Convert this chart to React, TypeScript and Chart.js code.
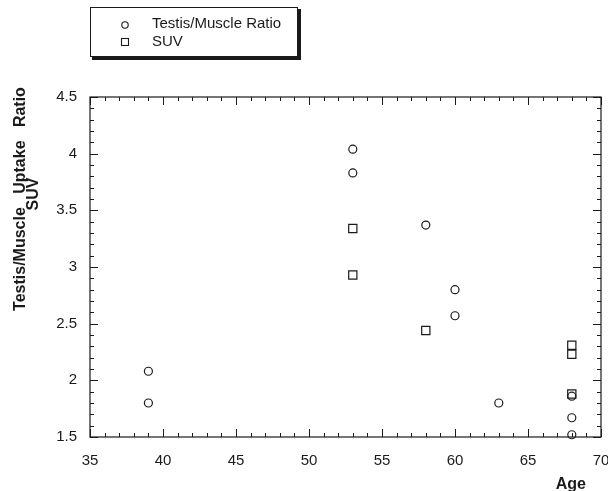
import React, { useEffect, useRef } from "react";
import { Chart, registerables } from "chart.js";

Chart.register(...registerables);

// ---- data ----
const ratioAges = [39, 39, 53, 53, 58, 60, 60, 63, 68, 68, 68];
const ratioValues = [2.08, 1.8, 4.04, 3.83, 3.37, 2.8, 2.57, 1.8, 1.86, 1.67, 1.52];
const suvAges = [53, 53, 58, 68, 68, 68];
const suvValues = [3.34, 2.93, 2.44, 2.31, 2.23, 1.88];

const seriesLabels = ["Testis/Muscle Ratio", "SUV"];
const xTickValues = [35, 40, 45, 50, 55, 60, 65, 70];
const xTickLabels = ["35", "40", "45", "50", "55", "60", "65", "70"];
const yTickValues = [1.5, 2, 2.5, 3, 3.5, 4, 4.5];
const yTickLabels = ["1.5", "2", "2.5", "3", "3.5", "4", "4.5"];
const xMinorStep = 1;
const yMinorStep = 0.1;
const yTitleLine1 = "Testis/Muscle   Uptake   Ratio";
const yTitleLine2 = "SUV";
const xTitle = "Age";

const FONT = '"Liberation Sans", Arial, Helvetica, sans-serif';
const INK = "#1a1a1a";

const decorPlugin = {
  id: "decor",
  afterDraw(chart: any) {
    const ctx = chart.ctx as CanvasRenderingContext2D;
    const { left, right, top, bottom } = chart.chartArea;
    const xs = chart.scales.x;
    const ys = chart.scales.y;
    ctx.save();
    ctx.strokeStyle = INK;
    ctx.lineWidth = 1.2;
    // frame
    ctx.strokeRect(left, top, right - left, bottom - top);
    // x ticks inward, bottom & top
    const xMin = xTickValues[0];
    const xMax = xTickValues[xTickValues.length - 1];
    const nx = Math.round((xMax - xMin) / xMinorStep);
    ctx.lineWidth = 1;
    ctx.beginPath();
    for (let i = 0; i <= nx; i++) {
      const v = xMin + i * xMinorStep;
      const px = Math.round(xs.getPixelForValue(v)) + 0.5;
      const major = xTickValues.includes(v);
      const len = major ? 8 : 4;
      ctx.moveTo(px, bottom);
      ctx.lineTo(px, bottom - len);
      ctx.moveTo(px, top);
      ctx.lineTo(px, top + len);
    }
    const yMin = yTickValues[0];
    const yMax = yTickValues[yTickValues.length - 1];
    const ny = Math.round((yMax - yMin) / yMinorStep);
    for (let i = 0; i <= ny; i++) {
      const v = +(yMin + i * yMinorStep).toFixed(2);
      const py = Math.round(ys.getPixelForValue(v)) + 0.5;
      const major = yTickValues.some((t) => Math.abs(t - v) < 1e-6);
      const len = major ? 8 : 4;
      ctx.moveTo(left, py);
      ctx.lineTo(left + len, py);
      ctx.moveTo(right, py);
      ctx.lineTo(right - len, py);
    }
    ctx.stroke();

    // y title (two lines)
    ctx.fillStyle = INK;
    ctx.font = `bold 16px ${FONT}`;
    ctx.textAlign = "center";
    ctx.textBaseline = "middle";
    ctx.save();
    ctx.translate(21, 199);
    ctx.rotate(-Math.PI / 2);
    ctx.fillText(yTitleLine1, 0, 0);
    ctx.restore();
    ctx.save();
    ctx.translate(34, 194);
    ctx.rotate(-Math.PI / 2);
    ctx.fillText(yTitleLine2, 0, 0);
    ctx.restore();

    // x title
    ctx.textAlign = "right";
    ctx.textBaseline = "alphabetic";
    ctx.font = `bold 16px ${FONT}`;
    ctx.fillText(xTitle, 586, 489);

    // legend box with shadow
    const bx = 90, by = 7, bw = 208, bh = 50;
    ctx.fillStyle = INK;
    ctx.fillRect(bx + 2, by + 2, bw + 1, bh + 1);
    ctx.fillStyle = "#fff";
    ctx.fillRect(bx, by, bw, bh);
    ctx.lineWidth = 1;
    ctx.strokeStyle = INK;
    ctx.strokeRect(bx + 0.5, by + 0.5, bw - 1, bh - 1);

    const ds = chart.data.datasets;
    ctx.font = `15px ${FONT}`;
    ctx.textAlign = "left";
    ctx.textBaseline = "middle";
    ctx.fillStyle = INK;
    ctx.lineWidth = 1.1;
    // circle
    ctx.beginPath();
    ctx.arc(125, 25, 3.2, 0, Math.PI * 2);
    ctx.stroke();
    ctx.fillText(ds[0].label, 152, 24);
    // square
    ctx.strokeRect(121.5, 38.5, 7, 7);
    ctx.fillText(ds[1].label, 152, 42);
    ctx.restore();
  },
};

export default function App() {
  const ref = useRef<HTMLCanvasElement | null>(null);
  useEffect(() => {
    if (!ref.current) return;
    const chart = new Chart(ref.current, {
      type: "scatter",
      data: {
        datasets: [
          {
            label: seriesLabels[0],
            data: ratioAges.map((a, i) => ({ x: a, y: ratioValues[i] })),
            pointStyle: "circle",
            pointRadius: 4,
            pointBorderWidth: 1.2,
            pointBorderColor: INK,
            pointBackgroundColor: "rgba(255,255,255,0)",
            clip: false as any,
          },
          {
            label: seriesLabels[1],
            data: suvAges.map((a, i) => ({ x: a, y: suvValues[i] })),
            pointStyle: "rect",
            pointRadius: 5.8,
            pointBorderWidth: 1.2,
            pointBorderColor: INK,
            pointBackgroundColor: "rgba(255,255,255,0)",
            clip: false as any,
          },
        ],
      },
      options: {
        animation: false,
        responsive: false,
        devicePixelRatio: 1,
        layout: { padding: { top: 97, right: 7, left: 0, bottom: 0 } },
        plugins: { legend: { display: false }, tooltip: { enabled: false } },
        scales: {
          x: {
            type: "linear",
            min: xTickValues[0],
            max: xTickValues[xTickValues.length - 1],
            grid: { display: false, drawTicks: false },
            border: { display: false },
            afterBuildTicks: (s: any) => {
              s.ticks = xTickValues.map((v) => ({ value: v }));
            },
            afterFit: (s: any) => {
              s.height = 54;
              s.paddingLeft = 0;
              s.paddingRight = 0;
            },
            ticks: {
              padding: 15,
              color: INK,
              font: { family: FONT, size: 15 },
              callback: (v: any) => {
                const i = xTickValues.indexOf(Number(v));
                return i >= 0 ? xTickLabels[i] : "";
              },
            },
          },
          y: {
            type: "linear",
            min: yTickValues[0],
            max: yTickValues[yTickValues.length - 1],
            grid: { display: false, drawTicks: false },
            border: { display: false },
            afterBuildTicks: (s: any) => {
              s.ticks = yTickValues.map((v) => ({ value: v }));
            },
            afterFit: (s: any) => {
              s.width = 90;
              s.paddingTop = 0;
              s.paddingBottom = 0;
            },
            ticks: {
              padding: 13,
              color: INK,
              font: { family: FONT, size: 15 },
              callback: (v: any) => {
                const i = yTickValues.findIndex((t) => Math.abs(t - Number(v)) < 1e-6);
                return i >= 0 ? yTickLabels[i] : "";
              },
            },
          },
        },
      },
      plugins: [decorPlugin],
    });
    return () => chart.destroy();
  }, []);
  return (
    <div style={{ position: "absolute", left: 0, top: 0, width: 608, height: 491, background: "#fff" }}>
      <canvas ref={ref} width={608} height={491} style={{ display: "block" }} />
    </div>
  );
}
